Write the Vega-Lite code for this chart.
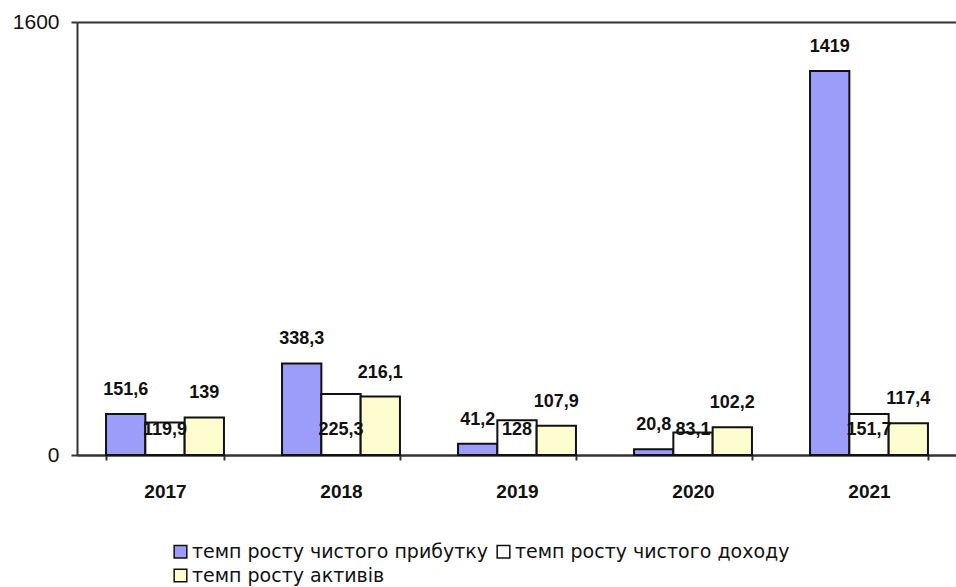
{
  "$schema": "https://vega.github.io/schema/vega-lite/v6.json",
  "width": 880,
  "height": 433,
  "autosize": "none",
  "padding": {"left": 77, "top": 22, "right": 0, "bottom": 132},
  "background": "white",
  "config": {
    "view": {"stroke": null},
    "locale": {"number": {"decimal": ",", "thousands": "", "grouping": [3], "currency": ["", ""]}}
  },
  "data": {
    "values": [
      {"year": "2017", "series": "темп росту чистого прибутку", "value": 151.6},
      {"year": "2017", "series": "темп росту чистого доходу", "value": 119.9},
      {"year": "2017", "series": "темп росту активів", "value": 139},
      {"year": "2018", "series": "темп росту чистого прибутку", "value": 338.3},
      {"year": "2018", "series": "темп росту чистого доходу", "value": 225.3},
      {"year": "2018", "series": "темп росту активів", "value": 216.1},
      {"year": "2019", "series": "темп росту чистого прибутку", "value": 41.2},
      {"year": "2019", "series": "темп росту чистого доходу", "value": 128},
      {"year": "2019", "series": "темп росту активів", "value": 107.9},
      {"year": "2020", "series": "темп росту чистого прибутку", "value": 20.8},
      {"year": "2020", "series": "темп росту чистого доходу", "value": 83.1},
      {"year": "2020", "series": "темп росту активів", "value": 102.2},
      {"year": "2021", "series": "темп росту чистого прибутку", "value": 1419},
      {"year": "2021", "series": "темп росту чистого доходу", "value": 151.7},
      {"year": "2021", "series": "темп росту активів", "value": 117.4}
    ]
  },
  "encoding": {
    "x": {
      "field": "year", "type": "nominal", "title": null,
      "scale": {"paddingInner": 0.33, "paddingOuter": 0.165},
      "axis": {
        "labelAngle": 0, "labelFont": "Liberation Sans", "labelFontWeight": "bold", "labelFontSize": 19,
        "labelColor": "#111", "labelPadding": 22, "domainColor": "#333", "domainWidth": 2,
        "tickColor": "#333", "tickWidth": 2, "tickSize": 5, "tickBand": "extent"
      }
    },
    "xOffset": {
      "field": "series", "type": "nominal",
      "scale": {"domain": ["темп росту чистого прибутку", "темп росту чистого доходу", "темп росту активів"], "paddingInner": 0, "paddingOuter": 0}
    }
  },
  "layer": [
    {
      "mark": {"type": "bar", "stroke": "#111", "strokeWidth": 2},
      "encoding": {
        "y": {
          "field": "value", "type": "quantitative", "title": null,
          "scale": {"domain": [0, 1600], "nice": false},
          "axis": {
            "values": [0, 1600], "format": "d", "grid": true, "gridColor": "#333", "gridWidth": 2,
            "domainColor": "#333", "domainWidth": 2, "tickColor": "#333", "tickWidth": 2, "tickSize": 6,
            "labelFont": "Liberation Sans", "labelFontSize": 21, "labelColor": "#111", "labelPadding": 12
          }
        },
        "color": {
          "field": "series", "type": "nominal",
          "scale": {
            "domain": ["темп росту чистого прибутку", "темп росту чистого доходу", "темп росту активів"],
            "range": ["#9c9cfa", "#ffffff", "#fdfdd0"]
          },
          "legend": {
            "title": null, "orient": "none", "legendX": 94, "legendY": 520, "columns": 2, "direction": "horizontal",
            "symbolType": "square", "symbolSize": 160, "symbolStrokeColor": "#111", "symbolStrokeWidth": 1.5,
            "symbolOpacity": 1,
            "labelFont": "DejaVu Sans", "labelFontSize": 19, "labelColor": "#111", "labelLimit": 500,
            "rowPadding": 4, "columnPadding": 6, "labelOffset": 2
          }
        }
      }
    },
    {
      "transform": [{"filter": "datum.series !== 'темп росту чистого доходу'"}],
      "mark": {"type": "text", "font": "Liberation Sans", "fontWeight": "bold", "fontSize": 18, "color": "#111", "baseline": "middle", "dy": -24},
      "encoding": {
        "y": {"field": "value", "type": "quantitative"},
        "text": {"field": "value", "type": "quantitative", "format": "~r"}
      }
    },
    {
      "transform": [{"filter": "datum.series === 'темп росту чистого доходу'"}],
      "mark": {"type": "text", "font": "Liberation Sans", "fontWeight": "bold", "fontSize": 18, "color": "#111", "baseline": "middle"},
      "encoding": {
        "y": {"datum": 92, "type": "quantitative"},
        "text": {"field": "value", "type": "quantitative", "format": "~r"}
      }
    }
  ]
}
